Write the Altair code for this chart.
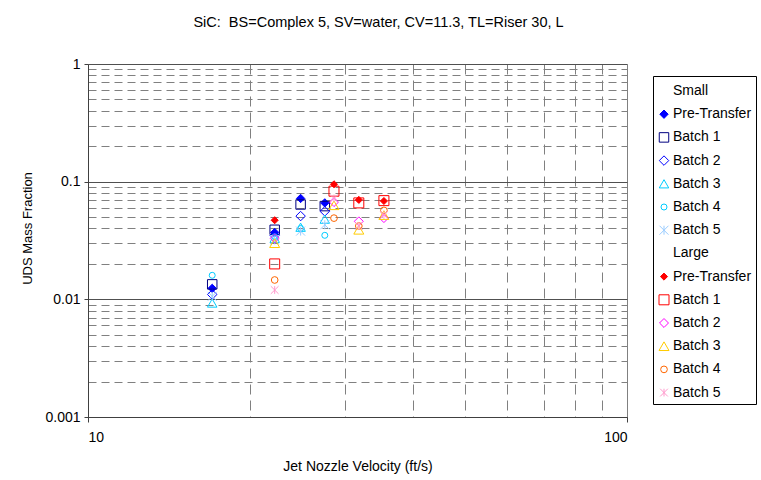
import altair as alt
import pandas as pd

# ---------------- data ----------------
batches = ["Pre-Transfer", "Batch 1", "Batch 2", "Batch 3", "Batch 4", "Batch 5"]

small_velocity = [17.0, 22.2, 24.8, 27.5]
small_pre = [0.0124, 0.037, 0.072, 0.066]
small_b1 = [0.0134, 0.039, 0.064, 0.062]
small_b2 = [0.0110, 0.035, 0.051, 0.056]
small_b3 = [0.0093, 0.033, 0.041, 0.048]
small_b4 = [0.0160, 0.034, 0.040, 0.035]
small_b5 = [0.0106, 0.032, 0.038, 0.043]

large_velocity = [22.2, 28.6, 31.8, 35.4]
large_pre = [0.047, 0.095, 0.070, 0.0685]
large_b1 = [0.020, 0.083, 0.066, 0.069]
large_b2 = [0.033, 0.067, 0.046, 0.049]
large_b3 = [0.030, 0.063, 0.039, 0.052]
large_b4 = [0.0146, 0.049, 0.042, 0.057]
large_b5 = [0.012, 0.072, 0.042, 0.052]

y_ticks = [0.001, 0.002, 0.003, 0.004, 0.005, 0.006, 0.007, 0.008, 0.009,
           0.01, 0.02, 0.03, 0.04, 0.05, 0.06, 0.07, 0.08, 0.09,
           0.1, 0.2, 0.3, 0.4, 0.5, 0.6, 0.7, 0.8, 0.9, 1]
x_ticks = [10, 20, 30, 40, 50, 60, 70, 80, 90, 100]

small_series = [small_pre, small_b1, small_b2, small_b3, small_b4, small_b5]
large_series = [large_pre, large_b1, large_b2, large_b3, large_b4, large_b5]

rows = []
for grp, vel, series in [("Small", small_velocity, small_series),
                         ("Large", large_velocity, large_series)]:
    for b, vals in zip(batches, series):
        for xv, yv in zip(vel, vals):
            rows.append({"velocity": xv, "frac": yv, "series": f"{grp}|{b}"})
df = pd.DataFrame(rows)

domain = (["Small"] + [f"Small|{b}" for b in batches]
          + ["Large"] + [f"Large|{b}" for b in batches])

ASTER = "M-1,-1L1,1M-1,1L1,-1M0,-1L0,1"
fills = ["white", "#0000FF"] + ["transparent"] * 5 + \
        ["white", "#FF0000"] + ["transparent"] * 5
strokes = ["white", "#0000FF", "#000080", "#0000FF", "#00CCFF", "#00CCFF", "#99CCFF",
           "white", "#FF0000", "#FF0000", "#FF00FF", "#FFCC00", "#FF6600", "#FF99CC"]
shapes = ["circle", "diamond", "square", "diamond", "triangle-up", "circle", ASTER,
          "circle", "diamond", "square", "diamond", "triangle-up", "circle", ASTER]
sizes = [1, 70, 90, 90, 90, 36, 80, 1, 50, 100, 80, 100, 45, 60]

FONT = "Liberation Sans"

legend = alt.Legend(
    orient="none", legendX=565, legendY=12,
    strokeColor="black", fillColor="white", padding=4,
    title=" ", titleFontSize=3, titlePadding=1,
    labelFont=FONT, labelFontSize=14, labelColor="black",
    labelExpr="indexof(datum.value, '|') >= 0 ? split(datum.value, '|')[1] : datum.value",
    rowPadding=9.2, symbolStrokeWidth=1, labelOffset=2, labelLimit=200,
)

y_dec = "indexof([0.001, 0.01, 0.1, 1], datum.value) >= 0"
x_dec = "datum.value == 10 || datum.value == 100"

chart = alt.Chart(df).mark_point(opacity=1, strokeWidth=1).encode(
    x=alt.X("velocity:Q",
            scale=alt.Scale(type="log", domain=[10, 100], nice=False),
            axis=alt.Axis(
                values=x_ticks,
                labelExpr=f"({x_dec}) ? format(datum.value, 'd') : ''",
                title="Jet Nozzle Velocity (ft/s)",
                grid=True,
                gridDash={"condition": {"test": x_dec, "value": []}, "value": [10, 6]},
                gridColor="#808080",
                tickOpacity={"condition": {"test": x_dec, "value": 1}, "value": 0},
                tickSize=5, tickColor="#404040",
                domainColor="#404040",
                labelFont=FONT, labelFontSize=14, labelColor="black", labelPadding=8,
                titleFont=FONT, titleFontSize=14, titleFontWeight="normal", titleColor="black",
                titleY=49, titleBaseline="middle",
            )),
    y=alt.Y("frac:Q",
            scale=alt.Scale(type="log", domain=[0.001, 1], nice=False),
            axis=alt.Axis(
                values=y_ticks,
                labelExpr=f"({y_dec}) ? format(datum.value, '~g') : ''",
                title="UDS Mass Fraction",
                grid=True,
                gridDash={"condition": {"test": y_dec, "value": []}, "value": [8, 5]},
                gridColor={"condition": {"test": y_dec, "value": "#505050"}, "value": "#808080"},
                tickOpacity={"condition": {"test": y_dec, "value": 1}, "value": 0},
                tickSize=4, tickColor="#404040",
                domainColor="#404040",
                labelFont=FONT, labelFontSize=14, labelColor="black", labelPadding=4,
                titleFont=FONT, titleFontSize=13, titleFontWeight="normal", titleColor="black",
                titleX=-61, titleY=164, titleAlign="center", titleBaseline="middle",
            )),
    fill=alt.Fill("series:N",
                  scale=alt.Scale(domain=domain, range=fills), legend=legend),
    stroke=alt.Stroke("series:N",
                      scale=alt.Scale(domain=domain, range=strokes), legend=legend),
    shape=alt.Shape("series:N",
                    scale=alt.Scale(domain=domain, range=shapes), legend=legend),
    size=alt.Size("series:N",
                  scale=alt.Scale(type="ordinal", domain=domain, range=sizes), legend=legend),
).properties(
    width=539, height=353,
    title=alt.TitleParams(
        "SiC: \u00a0BS=Complex 5, SV=water, CV=11.3, TL=Riser 30, L",
        font=FONT, fontSize=14.5, fontWeight="normal", color="black",
        anchor="middle", dx=21, offset=16, baseline="alphabetic",
    ),
    autosize=alt.AutoSizeParams(type="none"),
    padding={"left": 88, "top": 64, "right": 134, "bottom": 63},
).configure_view(
    stroke="#808080", strokeWidth=1
).configure(background="white")

chart.save("out.html", embed_options={"renderer": "svg", "actions": False})
